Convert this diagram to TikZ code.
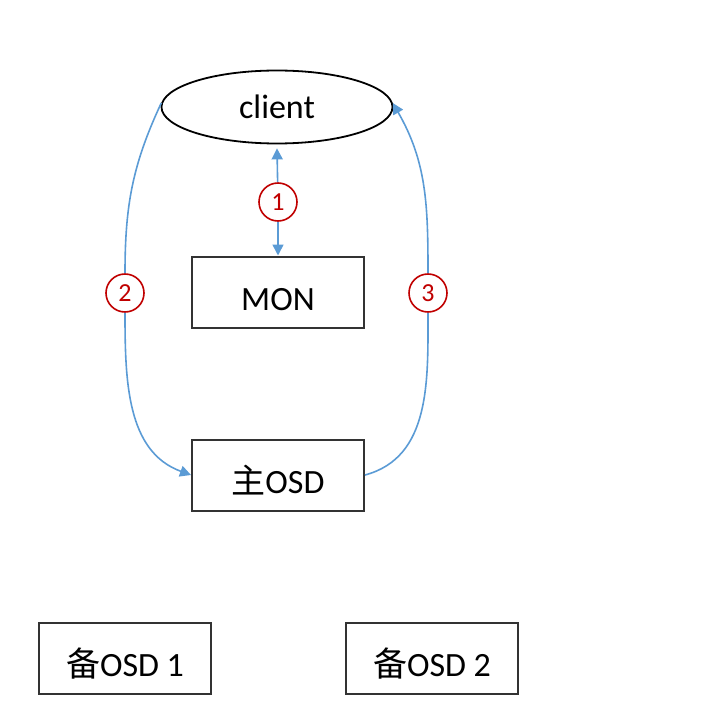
\documentclass[tikz,border=0pt]{standalone}
\usepackage{fontspec}
\setmainfont{Carlito}
\newfontfamily\cjk{Noto Sans CJK SC}
\usetikzlibrary{shapes.geometric, arrows.meta}
\definecolor{linkblue}{HTML}{5B9BD5}
\definecolor{numred}{HTML}{C00000}

\begin{document}
\begin{tikzpicture}[
            x=1pt, y=-1pt,
            box/.style={
                    draw=black!80,
                    line width=2pt,
                    minimum width=172pt,
                    minimum height=71pt,
                    inner sep=0pt,
                    text height=37pt,
                    text depth=0pt,
                    font=\fontsize{34}{40}\selectfont
                },
            oval/.style={
                    ellipse,
                    draw,
                    line width=1.8pt,
                    minimum width=231pt,
                    minimum height=73pt,
                    inner sep=0pt,
                    font=\fontsize{34}{40}\selectfont
                },
            num/.style={
                    circle,
                    draw=numred,
                    fill=white,
                    line width=1.6pt,
                    minimum size=38pt,
                    inner sep=0pt,
                    text=numred,
                    font=\fontsize{26}{28}\selectfont
                },
            link/.style={
                    draw=linkblue,
                    line width=1.6pt,
                    -{Triangle[width=11pt,length=11pt]}
                }
        ]

        \useasboundingbox (0,0) rectangle (720,714);


        \node[oval] (client) at (277,107)
        {client};


        \node[box] (mon) at (278,292)
        {MON};


        \node[box] (main) at (278,475)
        {{\cjk 主}OSD};


        \node[box] (bak1) at (125,658)
        {{\cjk 备}OSD 1};


        \node[box] (bak2) at (432,658)
        {{\cjk 备}OSD 2};


        \node[num] (n1) at (278,202) {1};
        \node[num] (n2) at (125,293) {2};
        \node[num] (n3) at (428,293) {3};


        \draw[link](n1)--([yshift=-4pt]client.south);
        \draw[link](n1)--(mon.north);
        \draw[link, -](client.178) to[out=-115, in=90] (n2);
        \draw[link](n2) to[out=-90, in=160] (main.west);
        \draw[link, -](main.east) to[out=15, in=-90] (n3);
        \draw[link](n3) to[out=90, in=-60] (client.2);


    \end{tikzpicture}
\end{document}
